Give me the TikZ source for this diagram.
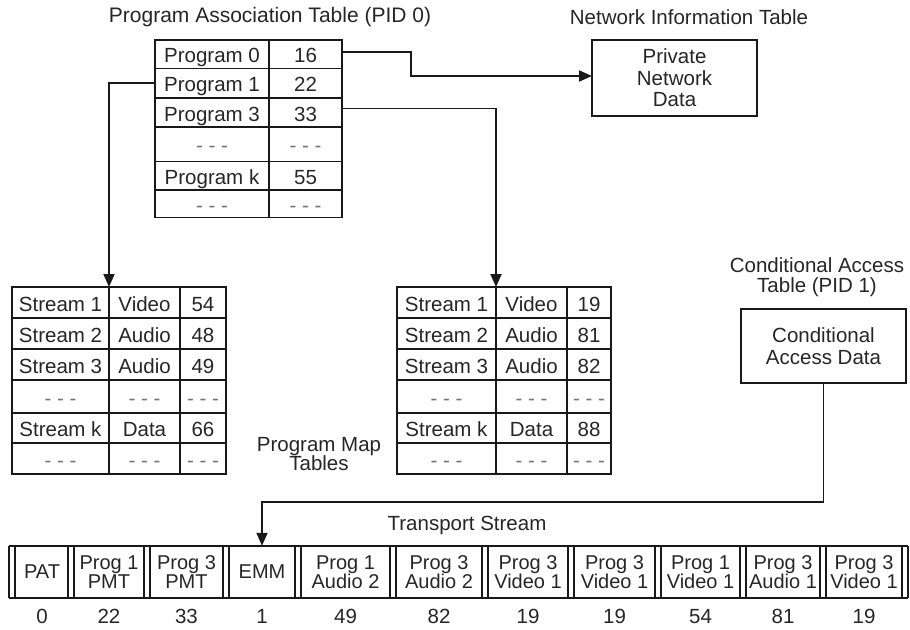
\documentclass[tikz,border=0pt]{standalone}
\usepackage{fontspec}
\setmainfont{Liberation Sans}
\usetikzlibrary{arrows.meta}
\usetikzlibrary{calc}

\newcommand{\skiprow}{\textcolor{black!55}{- - -}}

\tikzset{
  txt/.style={text=black!85, font=\fontsize{20.5}{21}\selectfont, align=center, inner sep=0pt},
  cell/.style={txt, draw=black!90, line width=1.8pt, outer sep=0pt},
  tab/.style={cell, text height=17pt, text depth=0pt},
  rail/.style={draw=black!90, line width=1.8pt},
  link/.style={draw=black!90, line width=1.8pt, -{Triangle[length=13pt,width=11pt]}},
}

\begin{document}
\lineskiplimit=-20pt
\begin{tikzpicture}[x=1pt,y=-1pt]
\useasboundingbox (0,0) rectangle (910,629);

% program association table
\node[txt, font=\fontsize{21}{21}\selectfont] (patlbl) at (270,17) {Program Association Table (PID 0)};
\foreach \y/\h/\a/\b [count=\i] in {54.25/28.5/Program 0/16, 83.25/29.5/Program 1/22,
    112.5/29/Program 3/33, 144.25/34.5/\skiprow/\skiprow, 175.75/28.5/Program k/55,
    203.75/27.5/\skiprow/\skiprow}
{
  \node[tab, minimum width=114, minimum height=\h] (pat-l-\i) at (212,\y) {\a};
  \node[tab, minimum width=73, minimum height=\h] (pat-r-\i) at (305.5,\y) {\b};
}

% network information table
\node[txt] (nitlbl) at (689,17) {Network Information Table};
\node[cell, font=\fontsize{20.5}{21.5}\selectfont, minimum width=165, minimum height=76]
  (nit) at (674.5,78) {Private\\Network\\Data};

% program map tables
\foreach \y/\h/\s/\t/\p/\q [count=\i] in {302.5/31/Stream 1/Video/54/19,
    333.5/31/Stream 2/Audio/48/81, 364.5/31/Stream 3/Audio/49/82,
    396.5/33/\skiprow/\skiprow/\skiprow/\skiprow, 428/30/Stream k/Data/66/88,
    458.5/31/\skiprow/\skiprow/\skiprow/\skiprow}
{
  \node[tab, minimum width=97, minimum height=\h] (lpmt-a-\i) at (60.5,\y) {\s};
  \node[tab, minimum width=71, minimum height=\h] (lpmt-b-\i) at (144.5,\y) {\t};
  \node[tab, minimum width=46, minimum height=\h] (lpmt-c-\i) at (203,\y) {\p};
  \node[tab, minimum width=99, minimum height=\h] (rpmt-a-\i) at (446.5,\y) {\s};
  \node[tab, minimum width=71, minimum height=\h] (rpmt-b-\i) at (531.5,\y) {\t};
  \node[tab, minimum width=44, minimum height=\h] (rpmt-c-\i) at (589,\y) {\q};
}
\node[txt, font=\fontsize{20.5}{18.5}\selectfont] (pmtlbl) at (319,454) {Program Map\\Tables};

% conditional access table
\node[txt, font=\fontsize{20.5}{19.5}\selectfont] (catlbl) at (817,277) {Conditional Access\\Table (PID 1)};
\node[cell, font=\fontsize{20.5}{22}\selectfont, minimum width=165, minimum height=74]
  (cat) at (823.5,346) {Conditional\\Access Data};

% transport stream
\node[txt] (tslbl) at (467,525) {Transport Stream};
\draw[rail] (9,546) -- (908,546) (9,598) -- (908,598);
\foreach \x in {9,68,144,223,295,390,482,568,655,740,820,902}
  \draw[rail] (\x,546) -- (\x,598) (\x+6,546) -- (\x+6,598);
\foreach \x/\t/\p [count=\i] in {42/PAT/0, 109/{Prog 1\\PMT}/22, 186.5/{Prog 3\\PMT}/33,
    262/EMM/1, 345.5/{Prog 1\\Audio 2}/49, 439/{Prog 3\\Audio 2}/82,
    528/{Prog 3\\Video 1}/19, 614.5/{Prog 3\\Video 1}/19, 700.5/{Prog 1\\Video 1}/54,
    783/{Prog 3\\Audio 1}/81, 864/{Prog 3\\Video 1}/19}
{
  \node[txt, font=\fontsize{20}{19}\selectfont, minimum height=52] (ts\i) at (\x,572) {\t};
  \node[txt, anchor=base] (pid\i) at (\x,623) {\p};
}

% links
\draw[link] ([yshift=2.5pt]pat-r-1.east) -- ++(69,0) |- ([yshift=2pt]nit.west);
\draw[link] (pat-l-2.west) -| (lpmt-a-1.north east);
\draw[link] ([yshift=4pt]pat-r-3.east) -| (rpmt-a-1.north east);
\draw[link] (cat.south) -- ++(0,119) -| (ts4.north);
\end{tikzpicture}
\end{document}
